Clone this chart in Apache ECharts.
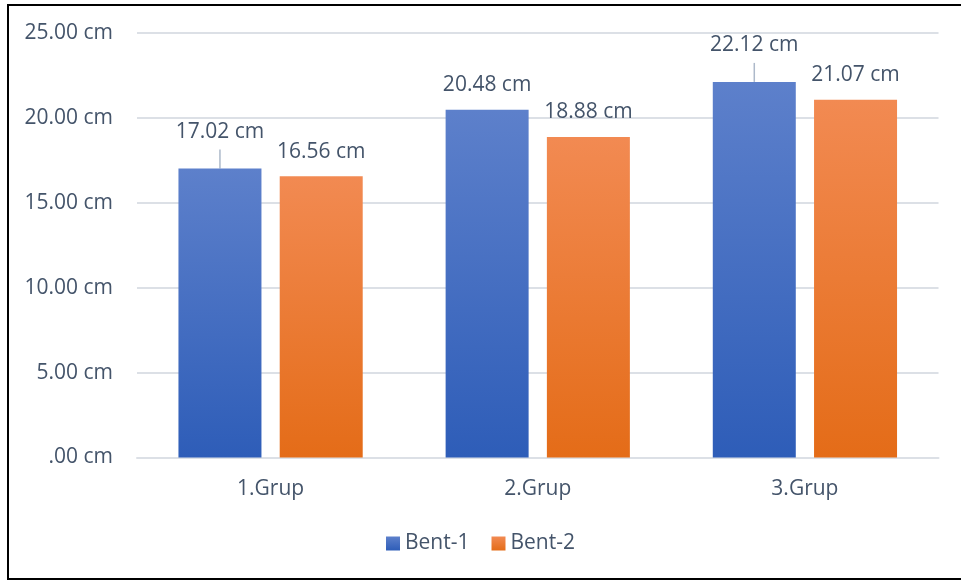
<!DOCTYPE html>
<html>
<head>
<meta charset="utf-8">
<script src="https://cdn.jsdelivr.net/npm/echarts@6/dist/echarts.min.js"></script>
<style>
  html, body { margin: 0; padding: 0; background: #fff; }
</style>
</head>
<body>
<div id="chart" style="width: 961px; height: 581px;"></div>
<script>
  // chart data
  const categories = ['1.Grup', '2.Grup', '3.Grup']
  const seriesNames = ['Bent-1', 'Bent-2']
  const bent1 = [17.02, 20.48, 22.12]
  const bent2 = [16.56, 18.88, 21.07]
  const yTicks = [0, 5, 10, 15, 20, 25]

  const textColor = '#44546A'
  const font = 'Open Sans'

  function fmt (v) {
    // Excel style: 0 -> ".00 cm"
    let s = v.toFixed(2)
    if (s.indexOf('0.') === 0) s = s.slice(1)
    return s + ' cm'
  }

  function grad (top, bottom) {
    return new echarts.graphic.LinearGradient(0, 0, 0, 1, [
      { offset: 0, color: top },
      { offset: 1, color: bottom }
    ])
  }

  const myChart = echarts.init(document.getElementById('chart'))

  const labelStyle = {
    show: true,
    position: 'top',
    distance: 7,
    padding: [0, 0, 7, 0],
    // transparent box so the padding counts for the leader line
    backgroundColor: 'rgba(255,255,255,0)',
    fontFamily: font,
    fontSize: 21,
    color: textColor,
    formatter: function (p) { return fmt(p.value) }
  }

  const option = {
    animation: false,
    backgroundColor: '#fff',
    textStyle: { fontFamily: font },
    graphic: [{
      type: 'rect',
      shape: { x: 8, y: 5, width: 960, height: 574 },
      style: { fill: 'none', stroke: '#000', lineWidth: 2 },
      silent: true
    }],
    legend: {
      data: seriesNames,
      bottom: 22,
      left: 'center',
      icon: 'rect',
      itemWidth: 14,
      itemHeight: 14,
      itemGap: 22,
      textStyle: { fontFamily: font, fontSize: 21, color: textColor }
    },
    grid: {
      left: 137,
      right: 22.5,
      top: 33,
      bottom: 123.5
    },
    xAxis: {
      type: 'category',
      data: categories,
      axisTick: { show: false },
      axisLine: { lineStyle: { color: '#DCE0E6', width: 2 } },
      axisLabel: { margin: 21, fontFamily: font, fontSize: 21, color: textColor }
    },
    yAxis: {
      type: 'value',
      min: yTicks[0],
      max: yTicks[yTicks.length - 1],
      interval: yTicks[1] - yTicks[0],
      axisLine: { show: false },
      axisTick: { show: false },
      splitLine: { lineStyle: { color: '#DCE0E6', width: 2 } },
      axisLabel: {
        margin: 24,
        fontFamily: font,
        fontSize: 21,
        color: textColor,
        formatter: function (v) { return fmt(v) }
      }
    },
    series: [
      {
        name: seriesNames[0],
        type: 'bar',
        barWidth: 83,
        barGap: '22%',
        data: bent1.map(function (v, i) {
          // labels of 1st and 3rd bar were dragged up in the original, with a leader line
          return i === 1 ? v : { value: v, labelLine: { show: true } }
        }),
        itemStyle: { color: grad('#5D80CB', '#2E5DB8') },
        label: labelStyle,
        labelLayout: function (p) {
          return p.dataIndex !== 1 ? { dy: -12 } : {}
        },
        labelLine: {
          show: false,
          lineStyle: { color: '#ADB9CA', width: 1.5 }
        }
      },
      {
        name: seriesNames[1],
        type: 'bar',
        barWidth: 83,
        data: bent2,
        itemStyle: { color: grad('#F28A52', '#E46C18') },
        label: labelStyle
      }
    ]
  }

  myChart.setOption(option)
</script>
</body>
</html>
